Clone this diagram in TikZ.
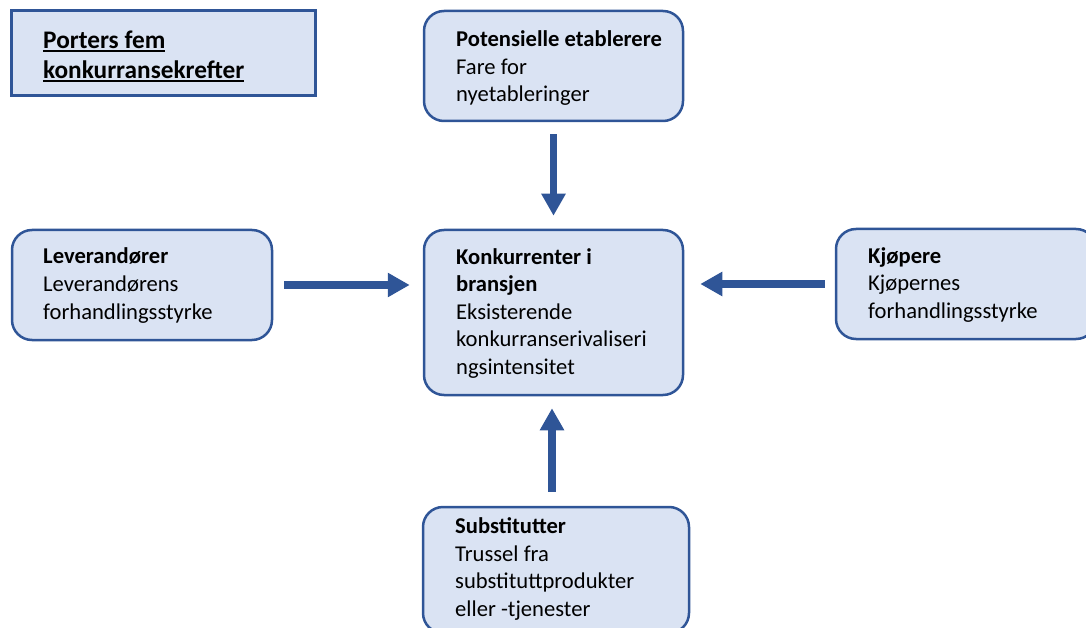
\documentclass[tikz,border=0pt]{standalone}
\usepackage{fontspec}
\setmainfont{Carlito}
\usetikzlibrary{arrows.meta}
\definecolor{bfill}{HTML}{DAE3F3}
\definecolor{bline}{HTML}{2F5597}
\newsavebox{\ulbox}
\newcommand{\myul}[1]{\sbox{\ulbox}{#1}\rlap{\rule[-3.5pt]{\wd\ulbox}{1.8pt}}\usebox{\ulbox}}
\begin{document}
\begin{tikzpicture}[x=1pt,y=-1pt,
  box/.style={draw=bline, line width=2.5pt, fill=bfill, rounded corners=20pt, inner sep=0pt},
  txt/.style={anchor=base west, align=left, inner sep=0pt, font=\fontsize{22.6}{27.5}\selectfont},
  arr/.style={draw=bline, line width=7.5pt, -{Triangle[length=22pt,width=23pt]}}]
\useasboundingbox (0,0) rectangle (1086,628);
\clip (0,0) rectangle (1086,628);
% title
\node[draw=bline, line width=3pt, fill=bfill, minimum width=304pt, minimum height=85pt, inner sep=0pt] (title) at (163,53.5) {};
\node[anchor=base west, align=left, inner sep=0pt, font=\fontsize{25.3}{30}\selectfont\bfseries] (titletxt) at (43,78.5) {\myul{Porters fem}\\\myul{konkurransekrefter}};
% boxes
\node[box, minimum width=259pt, minimum height=110pt] (pot) at (553.5,66) {};
\node[box, minimum width=259pt, minimum height=165pt] (konk) at (553.5,312.5) {};
\node[box, minimum width=260pt, minimum height=110pt] (lev) at (142,285) {};
\node[box, minimum width=260pt, minimum height=110pt] (kjo) at (966,284) {};
\node[box, minimum width=266pt, minimum height=126pt] (sub) at (556,570) {};
% texts (anchor = baseline of last line)
\node[txt] (pottxt) at (456,102) {\textbf{Potensielle etablerere}\\Fare for\\nyetableringer};
\node[txt] (konktxt) at (456,374) {\textbf{Konkurrenter i}\\\textbf{bransjen}\\Eksisterende\\konkurranserivaliseri\\ngsintensitet};
\node[txt] (levtxt) at (43,319) {\textbf{Leverandører}\\Leverandørens\\forhandlingsstyrke};
\node[txt] (kjotxt) at (868,318) {\textbf{Kjøpere}\\Kjøpernes\\forhandlingsstyrke};
\node[txt] (subtxt) at (455,616) {\textbf{Substitutter}\\Trussel fra\\substituttprodukter\\eller -tjenester};
% arrows
\draw[arr, shorten <=12pt, shorten >=13pt] (pot.south) -- (konk.north);
\draw[arr, shorten <=14pt, shorten >=12pt] ([xshift=-1.5pt]sub.north -| konk.south) -- ([xshift=-1.5pt]konk.south);
\draw[arr, shorten <=11pt, shorten >=13pt] (lev.east) -- (lev.east -| konk.west);
\draw[arr, shorten <=10pt, shorten >=16pt] (kjo.west) -- (kjo.west -| konk.east);
\end{tikzpicture}
\end{document}
